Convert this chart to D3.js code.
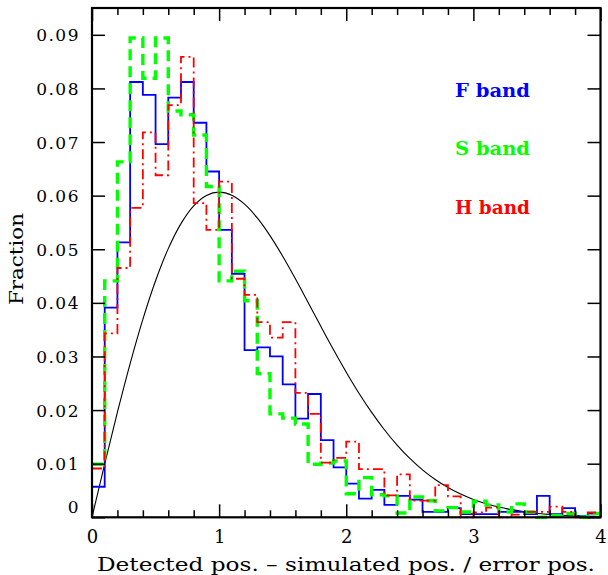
<!DOCTYPE html>
<html>
<head>
<meta charset="utf-8">
<script src="https://cdn.jsdelivr.net/npm/d3@7"></script>
<style>
  body { margin: 0; background: #fff; }
  text { font-family: "DejaVu Serif", serif; fill: #000; }
</style>
</head>
<body>
<svg id="chart" width="608" height="575"></svg>
<script>
// histogram fractions, 40 bins of width 0.1 from 0 to 4
var binWidth = 0.1;
var fBand = [0.0057, 0.0391, 0.0513, 0.0812, 0.0788, 0.0696, 0.0783, 0.0812, 0.0736, 0.0645,
             0.0536, 0.0454, 0.0312, 0.0317, 0.0300, 0.0248, 0.0184, 0.0230, 0.0144, 0.0093,
             0.0063, 0.0035, 0.0051, 0.0023, 0.0040, 0.0033, 0.0010, 0.0010, 0.0017, 0.0006,
             0.0006, 0.0006, 0.0010, 0.0010, 0.0006, 0.0040, 0.0006, 0.0017, 0.0002, 0.0007];
var sBand = [0.0099, 0.0441, 0.0663, 0.0894, 0.0819, 0.0894, 0.0758, 0.0751, 0.0713, 0.0617,
             0.0441, 0.0459, 0.0404, 0.0268, 0.0193, 0.0185, 0.0174, 0.0099, 0.0101, 0.0105,
             0.0044, 0.0074, 0.0042, 0.0040, 0.0008, 0.0038, 0.0031, 0.0012, 0.0018, 0.0010,
             0.0030, 0.0023, 0.0010, 0.0025, 0.0010, 0.0000, 0.0003, 0.0007, 0.0000, 0.0007];
var hBand = [0.0091, 0.0343, 0.0465, 0.0577, 0.0718, 0.0638, 0.0769, 0.0859, 0.0586, 0.0536,
             0.0626, 0.0445, 0.0415, 0.0364, 0.0335, 0.0364, 0.0232, 0.0193, 0.0102, 0.0111,
             0.0141, 0.0090, 0.0090, 0.0041, 0.0080, 0.0031, 0.0031, 0.0060, 0.0039, 0.0000,
             0.0009, 0.0018, 0.0000, 0.0005, 0.0010, 0.0010, 0.0020, 0.0010, 0.0000, 0.0009];

// the thin black reference curve, read at steps of 0.1
var curveX = [0, 0.1, 0.2, 0.3, 0.4, 0.5, 0.6, 0.7, 0.8, 0.9, 1.0, 1.1, 1.2, 1.3, 1.4, 1.5, 1.6, 1.7, 1.8, 1.9,
              2.0, 2.1, 2.2, 2.3, 2.4, 2.5, 2.6, 2.7, 2.8, 2.9, 3.0, 3.1, 3.2, 3.3, 3.4, 3.5, 3.6, 3.7, 3.8, 3.9, 4.0];
var curveY = [0, 0.00995, 0.0196, 0.02868, 0.03692, 0.04412, 0.05012, 0.05478, 0.05809, 0.06003,
              0.06065, 0.06007, 0.05841, 0.05584, 0.05254, 0.0487, 0.04449, 0.04008, 0.03562, 0.03125,
              0.02707, 0.02315, 0.01956, 0.01633, 0.01347, 0.01098, 0.00885, 0.00705, 0.00556, 0.00433,
              0.00333, 0.00254, 0.00191, 0.00143, 0.00105, 0.00077, 0.00055, 0.00039, 0.00028, 0.00019, 0.00013];

var xMajor = [0, 1, 2, 3, 4];
var xMinor = [0.2, 0.4, 0.6, 0.8, 1.2, 1.4, 1.6, 1.8, 2.2, 2.4, 2.6, 2.8, 3.2, 3.4, 3.6, 3.8];
var yMajor = [0, 0.01, 0.02, 0.03, 0.04, 0.05, 0.06, 0.07, 0.08, 0.09];
var yLabels = ["0", "0.01", "0.02", "0.03", "0.04", "0.05", "0.06", "0.07", "0.08", "0.09"];

var legendNames = ["F band", "S band", "H band"];

var series = [
  {name: "F band", values: fBand, color: "#0000ff", width: 1.8, dash: null},
  {name: "S band", values: sBand, color: "#00ff00", width: 3.4, dash: "11,6"},
  {name: "H band", values: hBand, color: "#ff0000", width: 1.8, dash: "10,4,2,4"}
];

var svg = d3.select("#chart");

var x = d3.scaleLinear().domain([0, 4]).range([92, 600.5]),
    y = d3.scaleLinear().domain([0, 0.095]).range([517.3, 8]);

// reference curve
var curveLine = d3.line()
    .x(function(d) { return x(d[0]); })
    .y(function(d) { return y(d[1]); })
    .curve(d3.curveCatmullRom);

svg.append("path")
    .datum(d3.zip(curveX, curveY))
    .attr("d", curveLine)
    .attr("fill", "none")
    .attr("stroke", "#000")
    .attr("stroke-width", 1.1);

// step histograms
var stepLine = d3.line()
    .x(function(d) { return x(d[0]); })
    .y(function(d) { return y(d[1]); })
    .curve(d3.curveStepAfter);

series.forEach(function(s) {
  var pts = s.values.map(function(v, i) { return [i * binWidth, v]; });
  pts.push([4, s.values[s.values.length - 1]]);
  svg.append("path")
      .datum(pts)
      .attr("d", stepLine)
      .attr("fill", "none")
      .attr("stroke", s.color)
      .attr("stroke-width", s.width)
      .attr("stroke-dasharray", s.dash);
});

// axes, ticks pointing inward on all four sides
function tickStyle(g) {
  g.select(".domain").remove();
  g.selectAll(".tick line").attr("stroke", "#000").attr("stroke-width", 1.5);
}

svg.append("g")
    .attr("transform", "translate(0," + y(0) + ")")
    .call(d3.axisBottom(x).tickValues(xMinor).tickSize(-7).tickFormat(""))
    .call(tickStyle);
var xAxis = svg.append("g")
    .attr("transform", "translate(0," + y(0) + ")")
    .call(d3.axisBottom(x).tickValues(xMajor).tickSize(-13).tickPadding(13).tickFormat(d3.format("d")))
    .call(tickStyle);
xAxis.selectAll("text")
    .attr("font-family", "DejaVu Serif")
    .attr("font-size", 18)
    .attr("dy", "0.71em");

svg.append("g")
    .attr("transform", "translate(0," + y(0.095) + ")")
    .call(d3.axisTop(x).tickValues(xMinor).tickSize(-7).tickFormat(""))
    .call(tickStyle);
svg.append("g")
    .attr("transform", "translate(0," + y(0.095) + ")")
    .call(d3.axisTop(x).tickValues(xMajor).tickSize(-13).tickFormat(""))
    .call(tickStyle);

var yAxis = svg.append("g")
    .attr("transform", "translate(" + x(0) + ",0)")
    .call(d3.axisLeft(y).tickValues(yMajor).tickSize(-13).tickPadding(12)
        .tickFormat(function(d, i) { return yLabels[i]; }))
    .call(tickStyle);
yAxis.selectAll("text")
    .attr("font-family", "DejaVu Serif")
    .attr("font-size", 17)
    .attr("letter-spacing", 1.5)
    .attr("dy", function(d) { return d === 0 ? "-0.3em" : "0.36em"; });

svg.append("g")
    .attr("transform", "translate(" + x(4) + ",0)")
    .call(d3.axisRight(y).tickValues(yMajor).tickSize(-13).tickFormat(""))
    .call(tickStyle);

// frame
svg.append("rect")
    .attr("x", x(0))
    .attr("y", y(0.095))
    .attr("width", x(4) - x(0))
    .attr("height", y(0) - y(0.095))
    .attr("fill", "none")
    .attr("stroke", "#000")
    .attr("stroke-width", 2.2);

// axis titles
svg.append("text")
    .attr("x", 97)
    .attr("y", 571)
    .attr("font-size", 18)
    .attr("textLength", 498)
    .attr("lengthAdjust", "spacingAndGlyphs")
    .text("Detected pos. \u2013 simulated pos. / error pos.");

svg.append("text")
    .attr("transform", "translate(23,305) rotate(-90)")
    .attr("font-size", 18)
    .attr("textLength", 92)
    .attr("lengthAdjust", "spacingAndGlyphs")
    .text("Fraction");

// legend
var legendY = [97, 155, 214];
svg.selectAll(".legend-text")
    .data(series)
  .enter().append("text")
    .attr("class", "legend-text")
    .attr("x", 455)
    .attr("y", function(d, i) { return legendY[i]; })
    .attr("font-size", 19)
    .attr("font-weight", "bold")
    .attr("textLength", 75)
    .attr("lengthAdjust", "spacingAndGlyphs")
    .style("fill", function(d) { return d.color; })
    .text(function(d, i) { return legendNames[i]; });
</script>
</body>
</html>
